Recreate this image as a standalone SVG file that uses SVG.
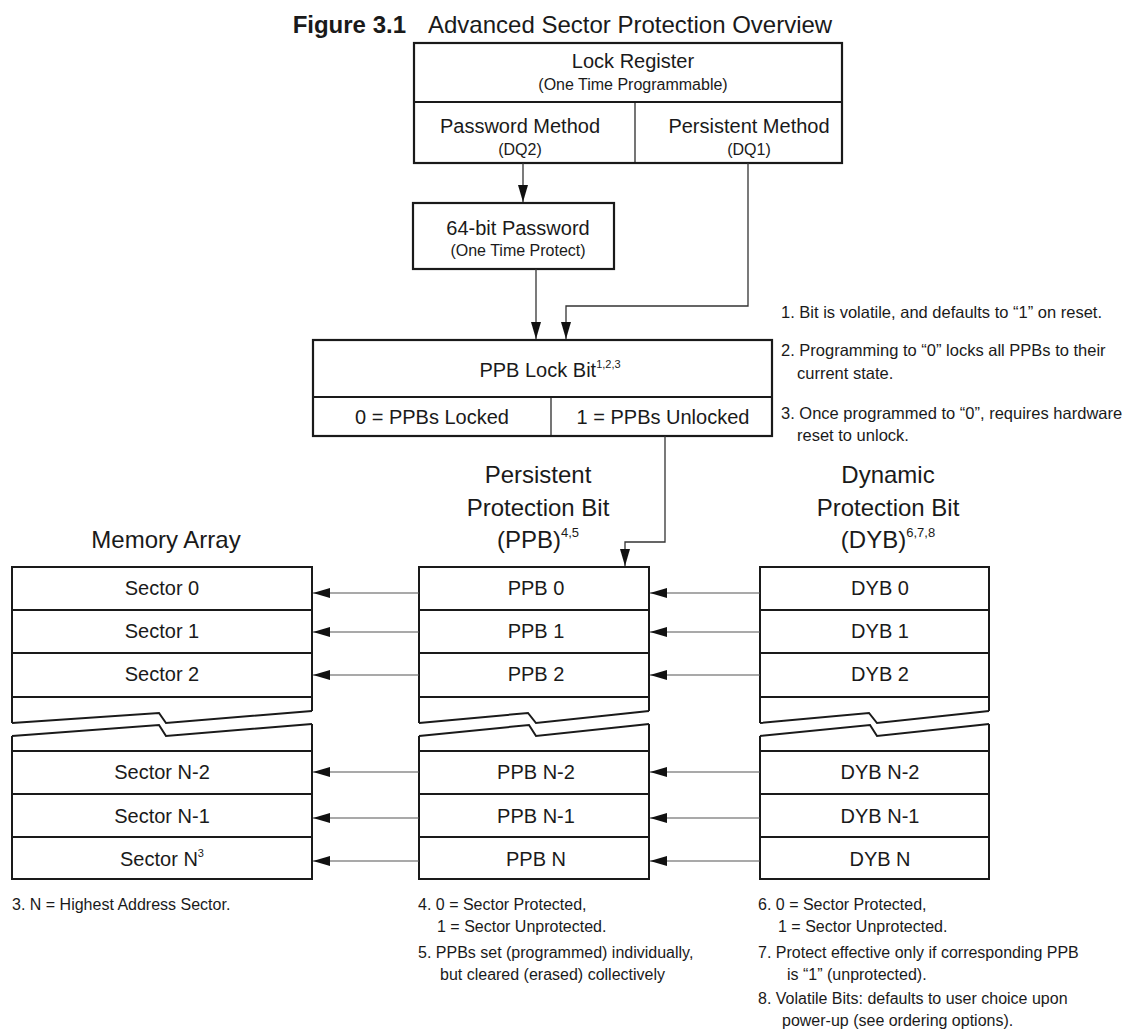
<svg xmlns="http://www.w3.org/2000/svg" width="1133" height="1030" viewBox="0 0 1133 1030">
<defs>
<style>
text{font-family:"Liberation Sans",Arial,Helvetica,sans-serif;fill:#1a1a1a}
.t20{font-size:20px;text-anchor:middle}
.t16{font-size:16px;text-anchor:middle}
.t24{font-size:24px;text-anchor:middle}
.note{font-size:16px}
.note2{font-size:16.5px}
.box{fill:#fff;stroke:#1a1a1a;stroke-width:2.2}
.ln{fill:none;stroke:#1a1a1a;stroke-width:2}
.thin{fill:none;stroke:#1a1a1a;stroke-width:1.2}
.conn{fill:none;stroke:#333;stroke-width:1.3}
.harr{fill:none;stroke:#555;stroke-width:1.2}
</style>
<marker id="ah" markerWidth="17" markerHeight="10" refX="17" refY="5" orient="auto" markerUnits="userSpaceOnUse"><path d="M0,0 L17,5 L0,10 z" fill="#111"/></marker>
</defs>
<rect width="1133" height="1030" fill="#fff"/>

<g id="title">
<text x="406" y="33" style="font-size:24px;font-weight:bold;text-anchor:end">Figure 3.1</text>
<text x="428" y="33" style="font-size:24px">Advanced Sector Protection Overview</text>
</g>

<g id="lock-register">
<rect class="box" x="414" y="43" width="428" height="120"/>
<line class="ln" x1="414" y1="102" x2="842" y2="102"/>
<line class="thin" x1="635" y1="102" x2="635" y2="163"/>
<text class="t20" x="633" y="68">Lock Register</text>
<text class="t16" x="633" y="90">(One Time Programmable)</text>
<text class="t20" x="520" y="133">Password Method</text>
<text class="t16" x="520" y="155">(DQ2)</text>
<text class="t20" x="749" y="133">Persistent Method</text>
<text class="t16" x="749" y="155">(DQ1)</text>
</g>

<g id="password">
<rect class="box" x="413" y="203" width="201" height="66"/>
<text class="t20" x="518" y="235">64-bit Password</text>
<text class="t16" x="518" y="256">(One Time Protect)</text>
</g>

<g id="ppb-lock">
<rect class="box" x="313" y="340" width="459" height="96"/>
<line class="ln" x1="313" y1="397" x2="772" y2="397"/>
<line class="thin" x1="551" y1="397" x2="551" y2="436"/>
<text class="t20" x="550" y="377">PPB Lock Bit<tspan style="font-size:11px" dy="-9">1,2,3</tspan></text>
<text class="t20" x="432" y="424">0 = PPBs Locked</text>
<text class="t20" x="663" y="424">1 = PPBs Unlocked</text>
</g>

<g id="notes-1-3">
<text class="note2" x="781" y="318">1. Bit is volatile, and defaults to “1” on reset.</text>
<text class="note2" x="781" y="356">2. Programming to “0” locks all PPBs to their</text>
<text class="note2" x="797" y="379">current state.</text>
<text class="note2" x="781" y="419">3. Once programmed to “0”, requires hardware</text>
<text class="note2" x="797" y="441">reset to unlock.</text>
</g>

<g id="memory-array">
<text class="t24" x="166" y="548">Memory Array</text>
<path class="ln" d="M12,723 L12,567 L312,567 L312,711"/>
<path class="ln" d="M12,610 H312 M12,653 H312 M12,697 H312"/>
<path class="ln" d="M12,723 L159,713 L166,723 L312,711"/>
<path class="ln" d="M12,736 L159,725 L166,736 L312,724"/>
<path class="ln" d="M12,736 L12,879 L312,879 L312,724"/>
<path class="ln" d="M12,751 H312 M12,794 H312 M12,837 H312"/>
<text class="t20" x="162" y="595">Sector 0</text>
<text class="t20" x="162" y="638">Sector 1</text>
<text class="t20" x="162" y="681">Sector 2</text>
<text class="t20" x="162" y="779">Sector N-2</text>
<text class="t20" x="162" y="823">Sector N-1</text>
<text class="t20" x="162" y="866">Sector N<tspan style="font-size:11px" dy="-9">3</tspan></text>
<text class="note" x="12" y="910">3. N = Highest Address Sector.</text>
</g>

<g id="ppb-array">
<text class="t24" x="538" y="483">Persistent</text>
<text class="t24" x="538" y="516">Protection Bit</text>
<text class="t24" x="538" y="548">(PPB)<tspan style="font-size:13px" dy="-11">4,5</tspan></text>
<path class="ln" d="M419,723 L419,567 L649,567 L649,711"/>
<path class="ln" d="M419,610 H649 M419,653 H649 M419,697 H649"/>
<path class="ln" d="M419,723 L528,713 L536,723 L649,711"/>
<path class="ln" d="M419,736 L529,725 L536,736 L649,724"/>
<path class="ln" d="M419,736 L419,879 L649,879 L649,724"/>
<path class="ln" d="M419,751 H649 M419,794 H649 M419,837 H649"/>
<text class="t20" x="536" y="595">PPB 0</text>
<text class="t20" x="536" y="638">PPB 1</text>
<text class="t20" x="536" y="681">PPB 2</text>
<text class="t20" x="536" y="779">PPB N-2</text>
<text class="t20" x="536" y="823">PPB N-1</text>
<text class="t20" x="536" y="866">PPB N</text>
<text class="note" x="418" y="910">4. 0 = Sector Protected,</text>
<text class="note" x="437" y="932">1 = Sector Unprotected.</text>
<text class="note" x="418" y="958">5. PPBs set (programmed) individually,</text>
<text class="note" x="440" y="980">but cleared (erased) collectively</text>
</g>

<g id="dyb-array">
<text class="t24" x="888" y="483">Dynamic</text>
<text class="t24" x="888" y="516">Protection Bit</text>
<text class="t24" x="888" y="548">(DYB)<tspan style="font-size:13px" dy="-11">6,7,8</tspan></text>
<path class="ln" d="M760,723 L760,567 L989,567 L989,711"/>
<path class="ln" d="M760,610 H989 M760,653 H989 M760,697 H989"/>
<path class="ln" d="M760,723 L869,713 L877,723 L989,711"/>
<path class="ln" d="M760,736 L870,725 L877,736 L989,724"/>
<path class="ln" d="M760,736 L760,879 L989,879 L989,724"/>
<path class="ln" d="M760,751 H989 M760,794 H989 M760,837 H989"/>
<text class="t20" x="880" y="595">DYB 0</text>
<text class="t20" x="880" y="638">DYB 1</text>
<text class="t20" x="880" y="681">DYB 2</text>
<text class="t20" x="880" y="779">DYB N-2</text>
<text class="t20" x="880" y="823">DYB N-1</text>
<text class="t20" x="880" y="866">DYB N</text>
<text class="note" x="758" y="910">6. 0 = Sector Protected,</text>
<text class="note" x="778" y="932">1 = Sector Unprotected.</text>
<text class="note" x="758" y="958">7. Protect effective only if corresponding PPB</text>
<text class="note" x="787" y="980">is “1” (unprotected).</text>
<text class="note" x="758" y="1004">8. Volatile Bits: defaults to user choice upon</text>
<text class="note" x="782" y="1026">power-up (see ordering options).</text>
</g>

<g id="connectors">
<path class="conn" d="M523,163 V202" marker-end="url(#ah)"/>
<path class="conn" d="M536,269 V339" marker-end="url(#ah)"/>
<path class="conn" d="M748,163 V306 H566 V339" marker-end="url(#ah)"/>
<path class="conn" d="M665,436 V542 H625 V566" marker-end="url(#ah)"/>
<path class="harr" d="M419,593 H313" marker-end="url(#ah)"/>
<path class="harr" d="M419,632 H313" marker-end="url(#ah)"/>
<path class="harr" d="M419,675 H313" marker-end="url(#ah)"/>
<path class="harr" d="M419,772 H313" marker-end="url(#ah)"/>
<path class="harr" d="M419,818 H313" marker-end="url(#ah)"/>
<path class="harr" d="M419,861 H313" marker-end="url(#ah)"/>
<path class="harr" d="M760,593 H650" marker-end="url(#ah)"/>
<path class="harr" d="M760,632 H650" marker-end="url(#ah)"/>
<path class="harr" d="M760,675 H650" marker-end="url(#ah)"/>
<path class="harr" d="M760,772 H650" marker-end="url(#ah)"/>
<path class="harr" d="M760,818 H650" marker-end="url(#ah)"/>
<path class="harr" d="M760,861 H650" marker-end="url(#ah)"/>
</g>
</svg>
